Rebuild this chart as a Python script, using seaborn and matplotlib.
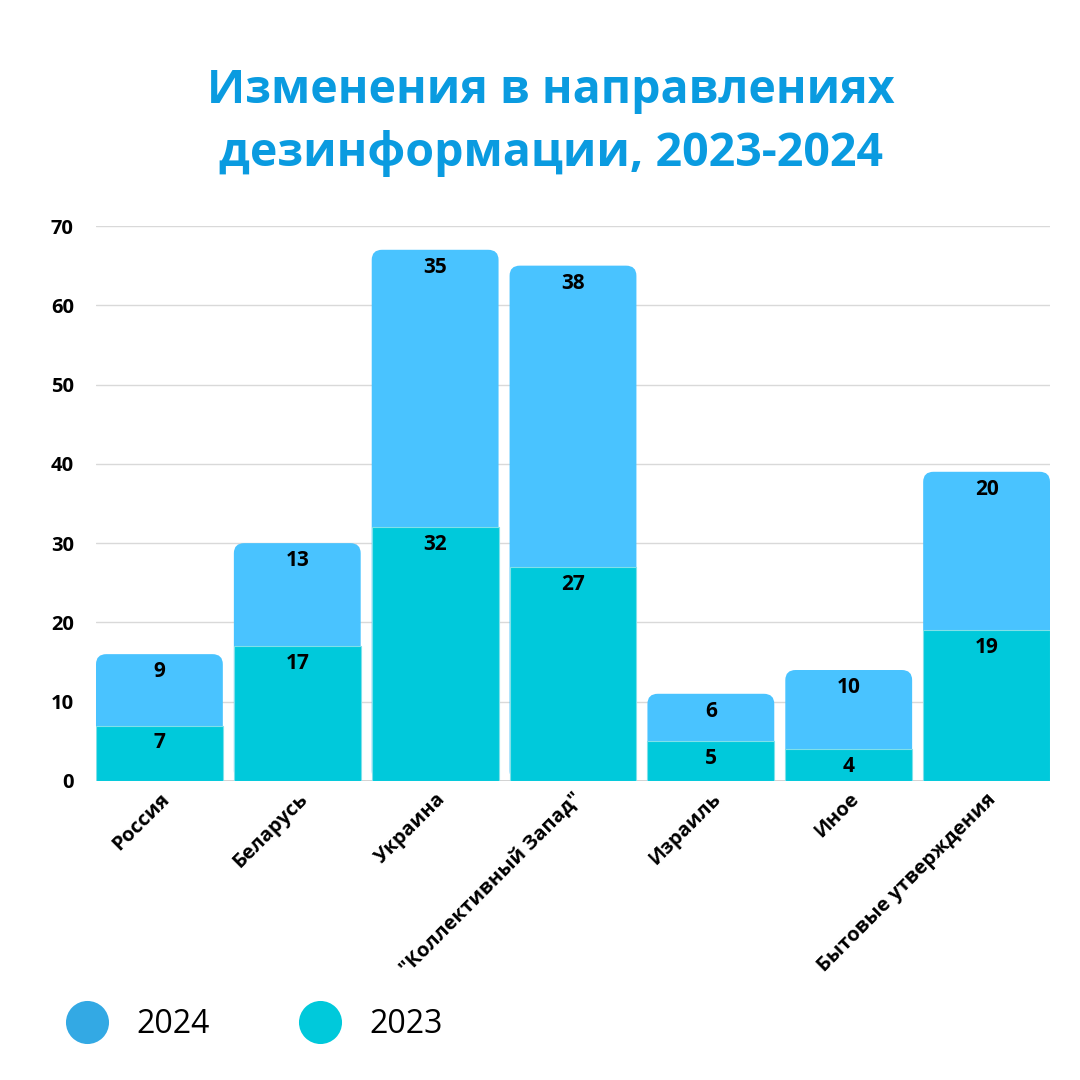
import matplotlib
matplotlib.use("Agg")
import matplotlib.pyplot as plt
import seaborn as sns
import pandas as pd
from matplotlib.patches import FancyBboxPatch
from matplotlib.lines import Line2D

categories = ["Россия", "Беларусь", "Украина", "\"Коллективный Запад\"",
              "Израиль", "Иное", "Бытовые утверждения"]
values_2023 = [7, 17, 32, 27, 5, 4, 19]
values_2024 = [9, 13, 35, 38, 6, 10, 20]
years = ["2024", "2023"]
y_ticks = [0, 10, 20, 30, 40, 50, 60, 70]

color_2024 = "#49C3FF"
color_2023 = "#00C9DB"
legend_2024 = "#33A9E4"
title_color = "#0A9BE0"

df = pd.DataFrame({"cat": categories, "y2023": values_2023, "y2024": values_2024})
df["total"] = df["y2023"] + df["y2024"]

sns.set_theme(style="white")
plt.rcParams["font.family"] = ["Open Sans", "DejaVu Sans"]
plt.rcParams["text.color"] = "black"
plt.rcParams["xtick.color"] = "black"
plt.rcParams["ytick.color"] = "black"

fig = plt.figure(figsize=(10.8, 10.8), dpi=100)
ax = fig.add_axes([96 / 1080, 1 - 781 / 1080, (1050 - 96) / 1080, (781 - 226) / 1080])

# totals (2024 on top), then 2023 drawn over
sns.barplot(data=df, x="cat", y="total", color=color_2024, width=0.92,
            saturation=1, ax=ax, zorder=2)
sns.barplot(data=df, x="cat", y="y2023", color=color_2023, width=0.92,
            saturation=1, ax=ax, zorder=3)

# rounded tops for the upper segments
for p in ax.containers[0]:
    x0, w, h = p.get_x(), p.get_width(), p.get_height()
    p.set_visible(False)
    rb = FancyBboxPatch((x0, 0), w, h, boxstyle="round,pad=0,rounding_size=0.075",
                        mutation_aspect=17, facecolor=color_2024, edgecolor="none",
                        zorder=2)
    ax.add_patch(rb)
for p in ax.containers[1]:
    p.set_edgecolor("#7FE0EA")
    p.set_linewidth(0.8)

# labels inside segments
for i, row in df.iterrows():
    ax.annotate(str(row["y2024"]), (i, row["total"]), xytext=(0, -12.5),
                textcoords="offset points", ha="center", va="center",
                fontsize=15, fontweight="bold", color="black", zorder=5)
    ax.annotate(str(row["y2023"]), (i, row["y2023"]), xytext=(0, -12.5),
                textcoords="offset points", ha="center", va="center",
                fontsize=15, fontweight="bold", color="black", zorder=5)

ax.set_xlim(-0.46, 6.46)
ax.set_ylim(0, 70)
ax.set_yticks(y_ticks)
ax.yaxis.grid(True, color="#D9D9D9", linewidth=1)
ax.set_axisbelow(True)
for s in ax.spines.values():
    s.set_visible(False)
ax.axhline(0, color="#CCCCCC", linewidth=1.2, zorder=1)
ax.set_xlabel("")
ax.set_ylabel("")
ax.tick_params(axis="y", length=0, pad=16, labelsize=14.5)
ax.tick_params(axis="x", length=0, pad=6, labelsize=14.5)
for lbl in ax.get_yticklabels():
    lbl.set_fontweight("bold")
ax.set_xticks(range(len(categories)))
ax.set_xticklabels(categories, rotation=45, ha="right", rotation_mode="anchor",
                   fontweight="bold")

fig.text(0.51, 0.887, "Изменения в направлениях\nдезинформации, 2023-2024",
         ha="center", va="center", fontsize=33.5, fontweight="bold",
         color=title_color, linespacing=1.45)

# legend
handles = [Line2D([], [], marker="o", linestyle="none", markersize=31,
                  markerfacecolor=legend_2024, markeredgecolor="none"),
           Line2D([], [], marker="o", linestyle="none", markersize=31,
                  markerfacecolor=color_2023, markeredgecolor="none")]
fig.legend(handles, years, loc="center left", bbox_to_anchor=(0.036, 0.051),
           ncol=2, frameon=False, fontsize=23, handletextpad=0.95,
           columnspacing=2.85, handlelength=1.2)

fig.savefig("out.png", dpi=100)
